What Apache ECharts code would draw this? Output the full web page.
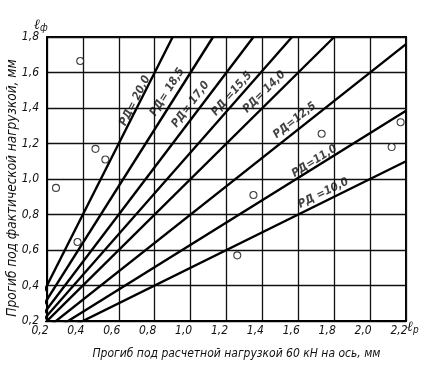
<!DOCTYPE html>
<html><head><meta charset="utf-8">
<script src="https://cdn.jsdelivr.net/npm/echarts@6/dist/echarts.min.js"></script>
<style>html,body{margin:0;padding:0;background:#fff}#c{width:430px;height:372px}</style>
</head><body><div id="c"></div>
<script>
// Line labels (РД values) and their end points (each line starts at origin)
const lineNames = ['РД= 20,0','РД= 18,5','РД= 17,0','РД =15,5','РД= 14,0','РД=12,5','РД=11,0','РД =10,0'];
const lineEndX = [0.9, 1.125, 1.35, 1.565, 1.8, 2.2, 2.2, 2.2];
const lineEndY = [1.8, 1.8, 1.8, 1.8, 1.8, 1.76, 1.385, 1.1];
// Label anchor positions
const labelX = [0.69, 0.87, 1.00, 1.23, 1.41, 1.58, 1.69, 1.74];
const labelY = [1.44, 1.49, 1.42, 1.48, 1.49, 1.33, 1.10, 0.92];
// Observed points
const pointsX = [0.385, 0.25, 0.47, 0.525, 1.35, 1.73, 2.12, 2.17, 1.26, 0.37];
const pointsY = [1.665, 0.95, 1.17, 1.11, 0.91, 1.255, 1.18, 1.32, 0.57, 0.645];
// Axes
const xMin = 0.2, xMax = 2.2, xStep = 0.2;
const yMin = 0.2, yMax = 1.8, yStep = 0.2;
const xTitle = 'Прогиб под расчетной нагрузкой 60 кН на ось, мм';
const yTitle = 'Прогиб под фактической нагрузкой, мм';

const FONT = "'Liberation Sans Narrow', 'DejaVu Sans Condensed', sans-serif";
const fmt = v => v.toFixed(1).replace('.', ',');

const chart = echarts.init(document.getElementById('c'), null, {renderer: 'canvas'});

const lineSeries = lineNames.map((n, i) => ({
  type: 'line', name: n, clip: true, silent: true, symbol: 'none',
  lineStyle: {color: '#000', width: 2.4},
  data: [[0, 0], [lineEndX[i], lineEndY[i]]],
  z: 3
}));

function buildOption(rotations) {
  return {
    backgroundColor: '#fff',
    animation: false,
    grid: {left: 47, right: 24, top: 37, bottom: 51, containLabel: false, outerBoundsMode: 'none',
           show: true, borderColor: '#000', borderWidth: 2, backgroundColor: 'transparent'},
    xAxis: {
      type: 'value', min: xMin, max: xMax, interval: xStep,
      name: xTitle, nameLocation: 'middle', nameGap: 27,
      nameTextStyle: {fontFamily: FONT, fontStyle: 'italic', fontSize: 12, color: '#111', padding: [0, 0, 0, 20]},
      axisLine: {show: true, lineStyle: {color: '#000', width: 2}},
      axisTick: {show: false},
      splitLine: {show: true, lineStyle: {color: '#111', width: 1.3}},
      axisLabel: {formatter: fmt, fontFamily: FONT, fontStyle: 'italic', fontSize: 12, color: '#111', margin: 4, padding: [0, 14, 0, 0]}
    },
    yAxis: {
      type: 'value', min: yMin, max: yMax, interval: yStep,
      axisLine: {show: true, lineStyle: {color: '#000', width: 2}},
      axisTick: {show: false},
      splitLine: {show: true, lineStyle: {color: '#111', width: 1.3}},
      axisLabel: {formatter: fmt, fontFamily: FONT, fontStyle: 'italic', fontSize: 12, color: '#111', margin: 8}
    },
    graphic: [
      {type: 'text', x: 12, y: 188, rotation: Math.PI / 2, style: {
        text: yTitle, fill: '#111', align: 'center', verticalAlign: 'middle',
        fontFamily: FONT, fontStyle: 'italic', fontSize: 13.5}},
      {type: 'text', left: 34, top: 18, style: {
        text: '{l|ℓ}{s|ф}', fill: '#111',
        rich: {l: {fontFamily: 'DejaVu Serif', fontStyle: 'italic', fontWeight: 'bold', fontSize: 14},
               s: {fontFamily: FONT, fontStyle: 'italic', fontSize: 10, padding: [6, 0, 0, 0]}}}},
      {type: 'text', left: 407, top: 320, style: {
        text: '{l|ℓ}{s|р}', fill: '#111',
        rich: {l: {fontFamily: 'DejaVu Serif', fontStyle: 'italic', fontWeight: 'bold', fontSize: 14},
               s: {fontFamily: FONT, fontStyle: 'italic', fontSize: 10, padding: [6, 0, 0, 0]}}}}
    ],
    series: lineSeries.concat([
      {
        type: 'scatter', symbolSize: 0, silent: true, z: 4,
        data: labelX.map((x, i) => ({value: [x, labelY[i]], label: {rotate: rotations ? rotations[i] : 0}})),
        label: {show: true, position: 'inside', formatter: p => lineNames[p.dataIndex],
          fontFamily: FONT, fontStyle: 'italic', fontWeight: 'bold', fontSize: 11.5, color: '#111'}
      },
      {
        type: 'scatter', symbol: 'circle', symbolSize: 7, z: 5,
        itemStyle: {color: '#fff', borderColor: '#111', borderWidth: 1.1},
        data: pointsX.map((x, i) => [x, pointsY[i]])
      }
    ])
  };
}

chart.setOption(buildOption(null));
const rot = lineNames.map((n, i) => {
  const p1 = chart.convertToPixel({gridIndex: 0}, [0, 0]);
  const p2 = chart.convertToPixel({gridIndex: 0}, [lineEndX[i], lineEndY[i]]);
  return -Math.atan2(p2[1] - p1[1], p2[0] - p1[0]) * 180 / Math.PI;
});
chart.setOption(buildOption(rot));
</script></body></html>
